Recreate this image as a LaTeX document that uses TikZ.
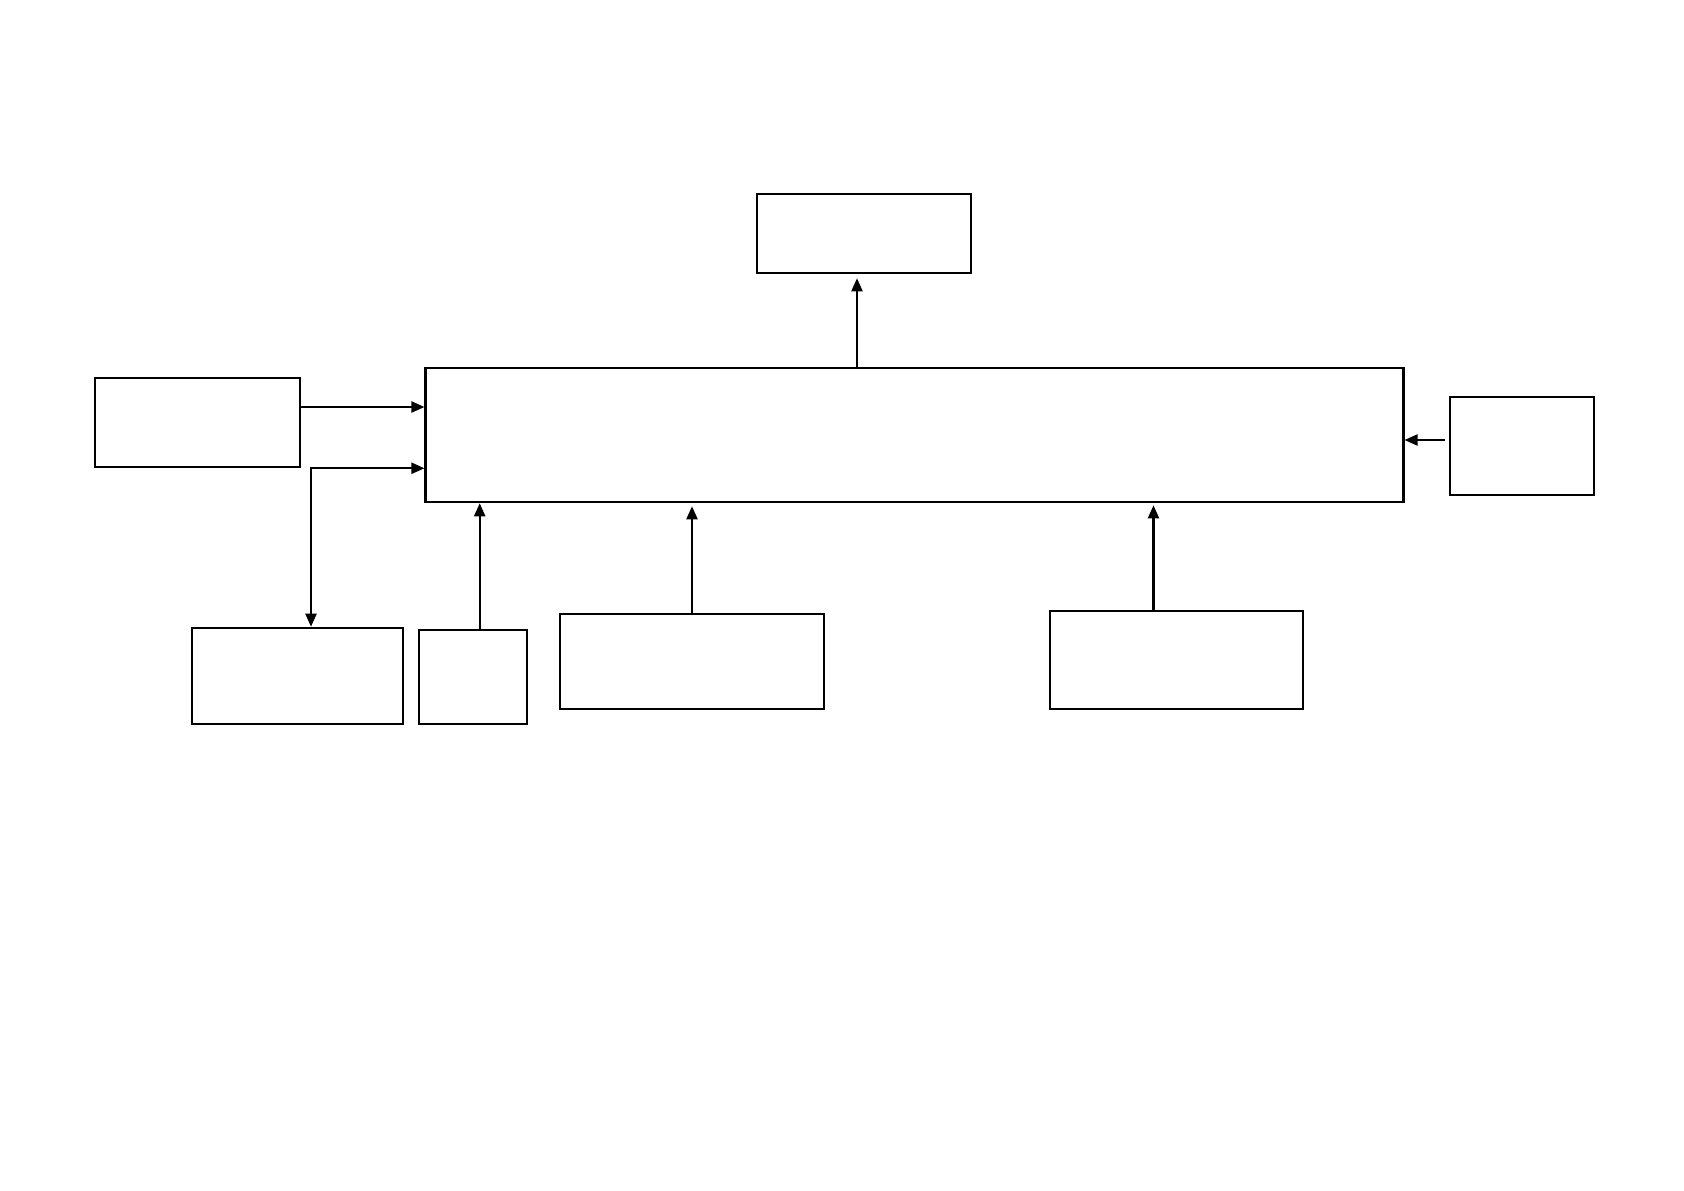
\documentclass[tikz,border=0pt]{standalone}
\usepackage{tikz}
\usetikzlibrary{arrows.meta,calc,positioning}
\tikzset{
  caja/.style={
    draw=black,
    fill=white,
    line width=.7pt,
    inner sep=0pt
  },
  arrow/.style={
    -{Triangle[length=1.3mm,width=1.1mm]},
    line width=.6pt,
    black
  },
  dblarrow/.style={
    {Triangle[length=1.3mm,width=1.1mm]}-{Triangle[length=1.3mm,width=1.1mm]},
    line width=.6pt,
    black
  }
}

\begin{document}
\begin{tikzpicture}[x=.01cm,y=-.01cm]
\useasboundingbox (0,0) rectangle (1684,1190);
\node[caja, minimum width=9.77cm, minimum height=1.34cm] (main) at (914.5,435) {};
\node[caja, minimum width=2.14cm, minimum height=.79cm] (top) at (864,233.5) {};
\node[caja, minimum width=2.05cm, minimum height=.89cm] (left) at (197.5,422.5) {};
\node[caja, minimum width=1.44cm, minimum height=.98cm] (right) at (1522,446) {};
\node[caja, minimum width=2.11cm, minimum height=.96cm] (b1) at (297.5,676) {};
\node[caja, minimum width=1.08cm, minimum height=.94cm] (b2) at (473,677) {};
\node[caja, minimum width=2.64cm, minimum height=.95cm] (b3) at (692,661.5) {};
\node[caja, minimum width=2.53cm, minimum height=.98cm] (b4) at (1176.5,660) {};
% entradas y salidas
\draw[arrow] ([xshift=-.07cm]top.south |- main.north) -- ([xshift=-.07cm,yshift=-.04cm]top.south);
\draw[arrow] ([yshift=.155cm]left.east) -- ([yshift=.155cm]left.east -| main.west);
\draw[dblarrow] (left.south -| main.west) -| ([xshift=.135cm]b1.north);
\draw[arrow] ([xshift=.067cm]b2.north) -- ([xshift=.067cm]b2.north |- main.south);
\draw[arrow] (b3.north) -- ([yshift=-.03cm]b3.north |- main.south);
\draw[arrow] ([xshift=-.23cm]b4.north) -- ([xshift=-.23cm,yshift=-.02cm]b4.north |- main.south);
\draw[arrow] ([xshift=-.04cm,yshift=.06cm]right.west) -- ([yshift=.06cm]right.west -| main.east);
\end{tikzpicture}
\end{document}
